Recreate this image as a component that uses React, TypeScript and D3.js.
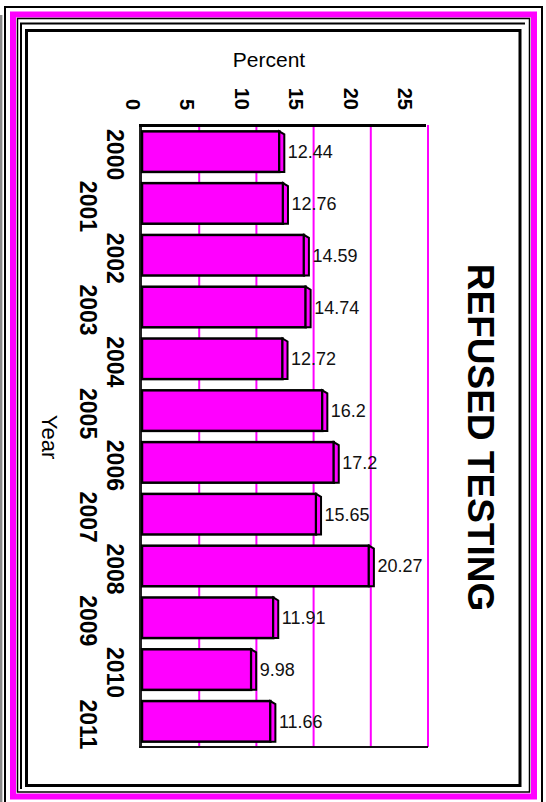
import React from 'react';
import * as d3 from 'd3';

const years = ['2000', '2001', '2002', '2003', '2004', '2005', '2006', '2007', '2008', '2009', '2010', '2011'];
const values = [12.44, 12.76, 14.59, 14.74, 12.72, 16.2, 17.2, 15.65, 20.27, 11.91, 9.98, 11.66];
const valueLabels = ['12.44', '12.76', '14.59', '14.74', '12.72', '16.2', '17.2', '15.65', '20.27', '11.91', '9.98', '11.66'];
const tickValues = [0, 5, 10, 15, 20, 25];
const gridValues = [5, 10, 15, 20, 25];
const title = 'REFUSED TESTING';
const xTitle = 'Percent';
const yTitle = 'Year';

const W = 546;
const H = 802;
const MAG = '#FF00FF';
const FONT = '"Liberation Sans", Arial, sans-serif';

export default function App() {
  const x = d3.scaleLinear().domain([0, 25]).range([142, 428]);
  const xLab = d3.scaleLinear().domain([0, 25]).range([125.5, 398]);
  const y = d3.scaleBand<string>().domain(years).range([126, 747]).paddingInner(0.17).paddingOuter(0.08);
  const bw = y.bandwidth();
  const depth = 5;

  return (
    <svg width={W} height={H} style={{ position: 'absolute', left: 0, top: 0, background: '#fff' }}>
      {/* frame */}
      <line x1={1.2} y1={15} x2={1.2} y2={H} stroke="#888" strokeWidth={2.4} />
      <rect x={5} y={7} width={537} height={800} fill="none" stroke="#000" strokeWidth={2} />
      <rect x={13} y={14.5} width={521} height={782} fill="none" stroke={MAG} strokeWidth={6} />
      <rect x={17.5} y={18.5} width={512} height={773.5} fill="none" stroke="#000" strokeWidth={1.5} />
      <polyline points="21,789 21,23.5 525,23.5" fill="none" stroke="#000" strokeWidth={2} />
      <rect x={26.5} y={30.5} width={493.5} height={755} fill="#fff" stroke="#000" strokeWidth={3} />

      {/* gridlines */}
      {gridValues.map((v) => (
        <line key={'g' + v} x1={x(v)} x2={x(v)} y1={125} y2={747} stroke={MAG} strokeWidth={2} />
      ))}
      {/* axes */}
      <line x1={140.5} x2={140.5} y1={125} y2={747} stroke="#222" strokeWidth={3} />
      <line x1={139} x2={x(25)} y1={747} y2={747} stroke="#111" strokeWidth={2} />
      <line x1={139} x2={x(25) - 2} y1={125.5} y2={125.5} stroke="#000" strokeWidth={3} />

      {/* bars */}
      {years.map((yr, i) => {
        const v = values[i];
        const y0 = (y(yr) as number) + 1.2;
        const y1 = y0 + bw - 2.4;
        const xr = x(v);
        const xf = xr - depth;
        return (
          <g key={yr}>
            <rect x={x(0)} y={y0} width={xf - x(0)} height={y1 - y0} fill={MAG} stroke="#000" strokeWidth={2.5} />
            <polygon
              points={`${xf},${y0} ${xr},${y0 + 3} ${xr},${y1} ${xf},${y1}`}
              fill={MAG}
              stroke="#000"
              strokeWidth={2}
              strokeLinejoin="miter"
            />
            <text
              x={xr + 3.5}
              y={(y(yr) as number) + bw / 2 + 6.5}
              fontFamily={FONT}
              fontSize={18}
              fill="#111"
            >
              {valueLabels[i]}
            </text>
          </g>
        );
      })}

      {/* x tick labels (rotated) */}
      {tickValues.map((v) => (
        <text
          key={'t' + v}
          transform={`translate(${xLab(v)},110) rotate(90)`}
          textAnchor="end"
          fontFamily={FONT}
          fontWeight="bold"
          fontSize={20}
          fill="#000"
        >
          {String(v)}
        </text>
      ))}

      {/* year labels (rotated, staggered) */}
      {years.map((yr, i) => (
        <text
          key={'y' + yr}
          transform={`translate(${i % 2 === 0 ? 107 : 80},${(y(yr) as number) + bw / 2 + 3}) rotate(90)`}
          textAnchor="middle"
          fontFamily={FONT}
          fontWeight="bold"
          fontSize={23}
          fill="#000"
        >
          {yr}
        </text>
      ))}

      {/* axis titles */}
      <text x={269} y={67} textAnchor="middle" fontFamily={FONT} fontSize={21} fill="#000">
        {xTitle}
      </text>
      <text transform="translate(42,437) rotate(90)" textAnchor="middle" fontFamily={FONT} fontSize={22} fill="#000">
        {yTitle}
      </text>

      {/* chart title */}
      <text
        transform="translate(468,437.5) rotate(90)"
        textAnchor="middle"
        fontFamily={FONT}
        fontWeight="bold"
        fontSize={37}
        fill="#000"
      >
        {title}
      </text>
    </svg>
  );
}
